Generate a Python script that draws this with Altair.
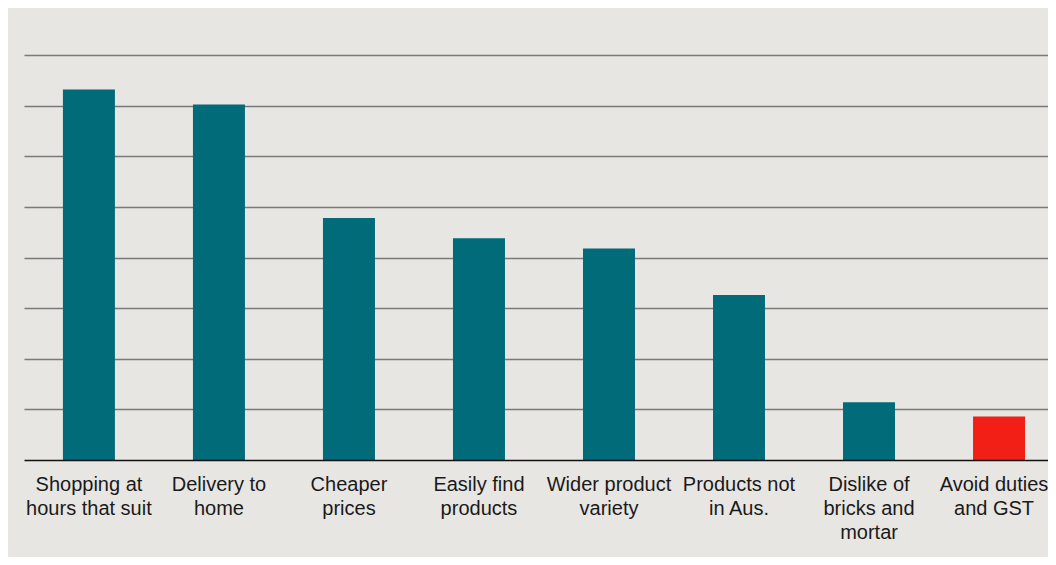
import altair as alt
import pandas as pd

categories = [
    "Shopping at\nhours that suit",
    "Delivery to\nhome",
    "Cheaper\nprices",
    "Easily find\nproducts",
    "Wider product\nvariety",
    "Products not\nin Aus.",
    "Dislike of\nbricks and\nmortar",
    "Avoid duties\nand GST",
]
values = [36.6, 35.1, 23.9, 21.9, 20.9, 16.3, 5.7, 4.3]
groups = ["main", "main", "main", "main", "main", "main", "main", "highlight"]

df = pd.DataFrame({"category": categories, "value": values, "group": groups})

BG = "#e8e6e2"

chart = (
    alt.Chart(df)
    .mark_bar()
    .encode(
        x=alt.X(
            "category:N",
            sort=categories,
            scale=alt.Scale(paddingInner=0.6, paddingOuter=0.238, align=0.629),
            axis=alt.Axis(
                title=None,
                labelAngle=0,
                labelExpr="split(datum.label, '\\n')",
                labelFont="Liberation Sans",
                labelFontSize=20,
                labelLineHeight=24,
                labelColor="#1a1a1a",
                labelPadding=14,
                labelBaseline="top",
                labelOffset=alt.ExprRef(expr="indexof(datum.value, 'Avoid') === 0 ? -5 : 0"),
                labelLimit=200,
                ticks=False,
                domainColor="#111111",
                domainWidth=1.5,
                zindex=1,
            ),
        ),
        y=alt.Y(
            "value:Q",
            scale=alt.Scale(domain=[0, 40], nice=False),
            axis=alt.Axis(
                title=None,
                labels=False,
                ticks=False,
                domain=False,
                values=[5, 10, 15, 20, 25, 30, 35, 40],
                grid=True,
                gridColor="#7a7a7a",
                gridWidth=1.3,
            ),
        ),
        color=alt.Color(
            "group:N",
            scale=alt.Scale(domain=["main", "highlight"], range=["#016b79", "#f21f16"]),
            legend=None,
        ),
    )
    .properties(
        width=1024,
        height=405,
        background=BG,
        padding={"left": 16, "top": 47, "right": 0, "bottom": 97},
        autosize=alt.AutoSizeParams(type="none"),
    )
    .configure_view(stroke=None, fill=BG)
)

chart.save("out.html", embed_options={"renderer": "svg", "actions": False})
